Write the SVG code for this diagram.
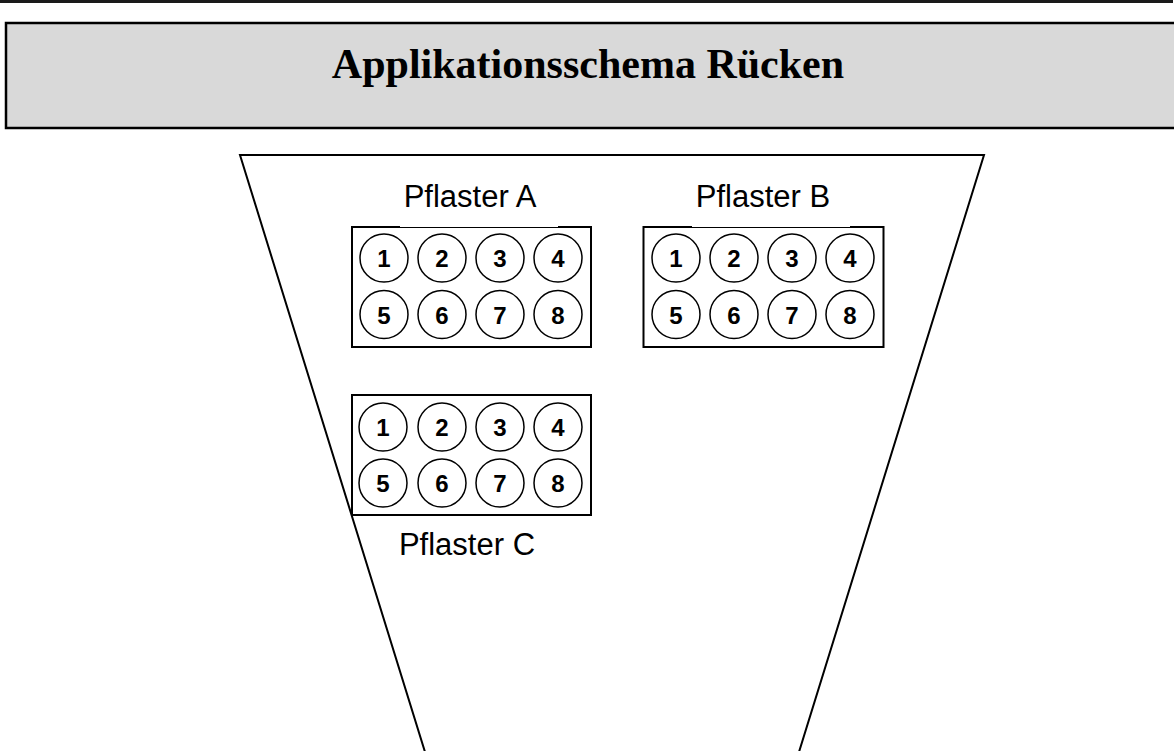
<svg xmlns="http://www.w3.org/2000/svg" width="1174" height="751" viewBox="0 0 1174 751">
<style>
.box{fill:#fff;stroke:#000;stroke-width:2}
.c{fill:#fff;stroke:#000;stroke-width:1.5}
.n{font-family:"Liberation Sans",Arial,sans-serif;font-weight:bold;font-size:24px;text-anchor:middle}
.lbl{font-family:"Liberation Sans",Arial,sans-serif;font-size:31px;text-anchor:middle;fill:#000}
</style>
<rect x="0" y="0" width="1173" height="3" fill="#1a1a1a"/>
<g id="header">
<rect x="6" y="23" width="1172" height="105" fill="#d9d9d9" stroke="#000" stroke-width="2.5"/>
<text x="588" y="78" font-family="'Liberation Serif','Times New Roman',serif" font-weight="bold" font-size="42" text-anchor="middle">Applikationsschema Rücken</text>
</g>
<g id="back">
<polygon points="240,155 984,155 799,752 425,752" fill="#fff" stroke="#000" stroke-width="2"/>
</g>
<g id="pflasterA">
<rect class="box" x="352" y="227" width="239" height="120"/>
<rect x="400" y="224" width="158" height="3" fill="#fff"/>
<text class="lbl" x="470" y="207">Pflaster A</text>
<circle class="c" cx="384" cy="258" r="24"/><text class="n" x="384" y="267">1</text>
<circle class="c" cx="442" cy="258" r="24"/><text class="n" x="442" y="267">2</text>
<circle class="c" cx="500" cy="258" r="24"/><text class="n" x="500" y="267">3</text>
<circle class="c" cx="558" cy="258" r="24"/><text class="n" x="558" y="267">4</text>
<circle class="c" cx="384" cy="314.5" r="24"/><text class="n" x="384" y="323.5">5</text>
<circle class="c" cx="442" cy="314.5" r="24"/><text class="n" x="442" y="323.5">6</text>
<circle class="c" cx="500" cy="314.5" r="24"/><text class="n" x="500" y="323.5">7</text>
<circle class="c" cx="558" cy="314.5" r="24"/><text class="n" x="558" y="323.5">8</text>
</g>
<g id="pflasterB">
<rect class="box" x="643.5" y="227" width="240" height="120"/>
<rect x="692" y="224" width="158" height="3" fill="#fff"/>
<text class="lbl" x="763" y="207">Pflaster B</text>
<circle class="c" cx="676" cy="258" r="24"/><text class="n" x="676" y="267">1</text>
<circle class="c" cx="734" cy="258" r="24"/><text class="n" x="734" y="267">2</text>
<circle class="c" cx="792" cy="258" r="24"/><text class="n" x="792" y="267">3</text>
<circle class="c" cx="850" cy="258" r="24"/><text class="n" x="850" y="267">4</text>
<circle class="c" cx="676" cy="314.5" r="24"/><text class="n" x="676" y="323.5">5</text>
<circle class="c" cx="734" cy="314.5" r="24"/><text class="n" x="734" y="323.5">6</text>
<circle class="c" cx="792" cy="314.5" r="24"/><text class="n" x="792" y="323.5">7</text>
<circle class="c" cx="850" cy="314.5" r="24"/><text class="n" x="850" y="323.5">8</text>
</g>
<g id="pflasterC">
<rect class="box" x="352" y="395" width="239" height="120"/>
<text class="lbl" x="467" y="555">Pflaster C</text>
<circle class="c" cx="383" cy="427" r="24"/><text class="n" x="383" y="436">1</text>
<circle class="c" cx="442" cy="427" r="24"/><text class="n" x="442" y="436">2</text>
<circle class="c" cx="500" cy="427" r="24"/><text class="n" x="500" y="436">3</text>
<circle class="c" cx="558" cy="427" r="24"/><text class="n" x="558" y="436">4</text>
<circle class="c" cx="383" cy="483" r="24"/><text class="n" x="383" y="492">5</text>
<circle class="c" cx="442" cy="483" r="24"/><text class="n" x="442" y="492">6</text>
<circle class="c" cx="500" cy="483" r="24"/><text class="n" x="500" y="492">7</text>
<circle class="c" cx="558" cy="483" r="24"/><text class="n" x="558" y="492">8</text>
</g>
<g id="connectors"/>
</svg>
